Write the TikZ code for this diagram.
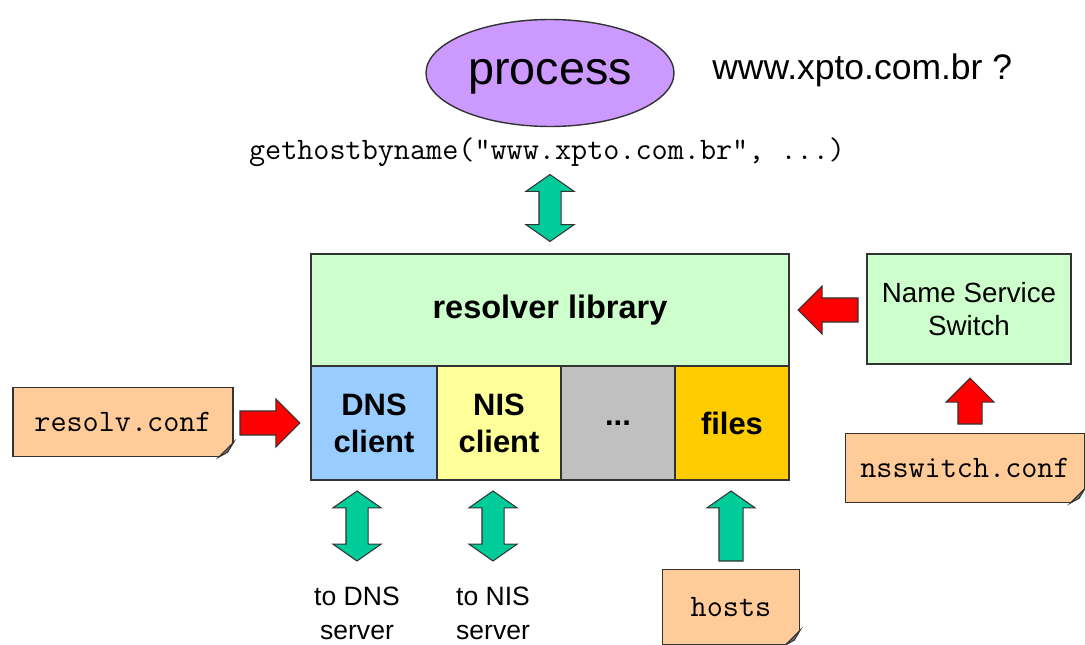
\documentclass[tikz,border=0pt]{standalone}
\usepackage{fontspec}
\setmainfont{Liberation Sans}
\usetikzlibrary{shapes.geometric,shapes.arrows}
\definecolor{lilac}{HTML}{CC99FF}
\definecolor{libgreen}{HTML}{CCFFCC}
\definecolor{dnsblue}{HTML}{99CCFF}
\definecolor{nisyellow}{HTML}{FFFF99}
\definecolor{dotsgrey}{HTML}{C0C0C0}
\definecolor{filesorange}{HTML}{FFCC00}
\definecolor{notepeach}{HTML}{FFCC99}
\definecolor{arrgreen}{HTML}{00CC99}
\definecolor{edge}{HTML}{333333}
\newcommand\foldcorner[1]{%
  \fill[white] ([xshift=-0.3cm]#1.south east) -- ([xshift=0.02cm,yshift=-0.02cm]#1.south east) -- ([yshift=0.3cm]#1.south east) -- cycle;
  \filldraw[fill=black!55, draw=edge, line width=0.6pt] ([xshift=-0.3cm]#1.south east) -- ([yshift=0.3cm]#1.south east) -- ([xshift=-0.12cm,yshift=0.1cm]#1.south east) -- cycle;}
\begin{document}
\begin{tikzpicture}[x=0.02cm, y=-0.02cm,
  box/.style={rectangle, draw=edge, line width=0.8pt, inner sep=0pt, outer sep=0pt},
  cell/.style={box, minimum height=2.28cm, align=center, font=\fontsize{17.6}{21}\selectfont\bfseries},
  note/.style={rectangle, draw=edge, line width=0.8pt, fill=notepeach, inner sep=0pt, minimum height=1.38cm, font=\ttfamily\fontsize{17.8}{20}\selectfont},
  redarr/.style={single arrow, draw=edge, line width=0.6pt, fill=red, inner sep=0.23cm, outer sep=0pt, minimum width=0.94cm, single arrow head extend=0.24cm, anchor=tail},
  greenarr/.style={single arrow, draw=edge, line width=0.6pt, fill=arrgreen, inner sep=0.23cm, outer sep=0pt, minimum width=0.94cm, single arrow head extend=0.24cm, single arrow tip angle=110, anchor=tail},
  dblarr/.style={double arrow, draw=edge, line width=0.6pt, fill=arrgreen, inner sep=0.21cm, minimum width=0.94cm, double arrow head extend=0.26cm, double arrow tip angle=110},
  plain/.style={font=\fontsize{15.1}{19.3}\selectfont, align=center}]
\useasboundingbox (0,0) rectangle (1085,645);
\node[ellipse, draw=edge, line width=0.8pt, fill=lilac, minimum width=2.74cm, minimum height=2.14cm, text height=0.68cm, text depth=0.2cm, font=\fontsize{26.6}{30}\selectfont] (proc) at (550,73){process};
\node[anchor=west, font=\fontsize{20.2}{24}\selectfont, inner sep=0pt] (query) at (712,70){www.xpto.com.br ?};
\node[font=\ttfamily\fontsize{17.8}{20}\selectfont] (call) at (547,152){gethostbyname(\char"201C www.xpto.com.br\char"201D, ...)};
\node[dblarr, rotate=90, minimum height=1.34cm] (arrcall) at (550,208){};
\node[box, fill=libgreen, minimum width=9.56cm, minimum height=2.24cm, font=\fontsize{18.5}{22}\selectfont\bfseries] (lib) at (550,310){resolver library};
\node[cell, fill=dnsblue, minimum width=2.52cm, anchor=north west] (dns) at (lib.south west){DNS\\client};
\node[cell, fill=nisyellow, minimum width=2.48cm, anchor=west] (nis) at (dns.east){NIS\\client};
\node[cell, fill=dotsgrey, minimum width=2.28cm, anchor=west] (dots) at (nis.east){...};
\node[cell, fill=filesorange, minimum width=2.28cm, anchor=west] (files) at (dots.east){files};
\node[box, fill=libgreen, minimum width=4.08cm, minimum height=2.2cm, align=center, font=\fontsize{15.8}{19}\selectfont] (nss) at (969,309){Name Service\\Switch};
\node[redarr, rotate=180, minimum height=1.2cm] (arrnss) at (858,310){};
\node[note, minimum width=4.4cm] (resolv) at (123,422){resolv.conf};
\foldcorner{resolv}
\node[redarr, minimum height=1.2cm] (arrresolv) at (240,423){};
\node[note, minimum width=4.78cm] (nssconf) at (965,468){nsswitch.conf};
\foldcorner{nssconf}
\node[redarr, rotate=90, minimum height=0.92cm] (arrnssconf) at (970,424){};
\node[dblarr, rotate=90, minimum height=1.4cm] (arrdns) at (357,526){};
\node[dblarr, rotate=90, minimum height=1.4cm] (arrnis) at (493,526){};
\node[greenarr, rotate=90, minimum height=1.4cm] (arrhosts) at (731,561){};
\node[plain] (dnssrv) at (357,613){to DNS\\server};
\node[plain] (nissrv) at (493,613){to NIS\\server};
\node[note, minimum width=2.74cm, minimum height=1.5cm] (hosts) at (731,607){hosts};
\foldcorner{hosts}
\end{tikzpicture}
\end{document}
